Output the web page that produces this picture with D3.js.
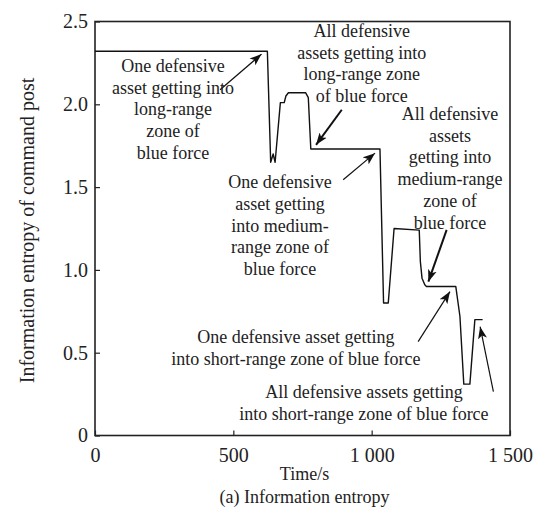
<!DOCTYPE html>
<html>
<head>
<meta charset="utf-8">
<script src="https://cdn.jsdelivr.net/npm/d3@7"></script>
<style>
  body { margin: 0; background: #fff; }
  svg text { font-family: "Liberation Serif", "Times New Roman", serif !important; }
</style>
</head>
<body>
<svg id="chart" width="542" height="523"></svg>
<script>
// data
const times   = [0, 623, 635, 644, 651, 670, 684, 690, 699, 761, 771, 780, 1030, 1043, 1060, 1081, 1172, 1176, 1182, 1192, 1198, 1304, 1319, 1333, 1355, 1373, 1401];
const entropy = [2.32, 2.32, 1.65, 1.70, 1.65, 2.01, 2.01, 2.05, 2.07, 2.07, 2.04, 1.73, 1.73, 0.80, 0.80, 1.25, 1.24, 1.05, 0.95, 0.91, 0.90, 0.90, 0.72, 0.31, 0.31, 0.70, 0.70];

const xTicks = [0, 500, 1000, 1500];
const xTickLabels = ['0', '500', '1 000', '1 500'];
const yTicks = [0, 0.5, 1.0, 1.5, 2.0, 2.5];
const yTickLabels = ['0', '0.5', '1.0', '1.5', '2.0', '2.5'];

// annotation texts, anchored in data units
const noteLines = [
    ['One defensive', 'asset getting into', 'long-range', 'zone of', 'blue force'],
    ['All defensive', 'assets getting into', 'long-range zone', 'of blue force'],
    ['One defensive', 'asset getting', 'into medium-', 'range zone of', 'blue force'],
    ['All defensive', 'assets', 'getting into', 'medium-range', 'zone of', 'blue force'],
    ['One defensive asset getting', 'into short-range zone of blue force'],
    ['All defensive assets getting', 'into short-range zone of blue force'],
];
const noteAt   = [[282, 2.196], [964, 2.408], [669, 1.495], [1283, 1.906], [726, 0.559], [972, 0.227]];
const arrowFrom = [[452, 2.088], [892, 1.967], [897, 1.544], [1271, 1.242], [1168, 0.567], [1440, 0.265]];
const arrowTo   = [[602, 2.303], [799, 1.755], [1012, 1.705], [1205, 0.929], [1283, 0.869], [1392, 0.657]];

// margins
const margin = { l: 95, t: 21.5, r: 32, b: 87.5 };

const svg = d3.select('#chart');
const width  = +svg.attr('width');
const height = +svg.attr('height');
const w = width - margin.l - margin.r;
const h = height - margin.t - margin.b;

const xScale = d3.scaleLinear().domain([0, 1500]).range([0, w]);
const yScale = d3.scaleLinear().domain([0, 2.5]).range([h, 0]);

const g = svg.append('g').attr('transform', `translate(${margin.l},${margin.t})`);

// axes, ticks pointing inward
const xAxis = d3.axisBottom(xScale)
    .tickValues(xTicks)
    .tickFormat((d, i) => xTickLabels[i])
    .tickSizeInner(-5).tickSizeOuter(0).tickPadding(12);
const yAxis = d3.axisLeft(yScale)
    .tickValues(yTicks)
    .tickFormat((d, i) => yTickLabels[i])
    .tickSizeInner(-5).tickSizeOuter(0).tickPadding(12);

const gx = g.append('g').attr('transform', `translate(0,${h})`).call(xAxis);
const gy = g.append('g').call(yAxis);
[gx, gy].forEach(a => {
    a.attr('font-family', null).attr('font-size', 20);
    a.select('.domain').remove();
    a.selectAll('line').attr('stroke', '#222').attr('stroke-width', 1.2);
    a.selectAll('text').attr('fill', '#222');
});
gy.selectAll('text').attr('dx', 5);

// frame
g.append('rect')
    .attr('width', w).attr('height', h)
    .attr('fill', 'none').attr('stroke', '#222').attr('stroke-width', 1.6);

// entropy line
const line = d3.line()
    .x((d, i) => xScale(times[i]))
    .y(d => yScale(d));

g.append('path')
    .attr('d', line(entropy))
    .attr('fill', 'none')
    .attr('stroke', '#111')
    .attr('stroke-width', 1.4)
    .attr('stroke-linejoin', 'round');

// arrowheads
const defs = svg.append('defs');
defs.append('marker')
    .attr('id', 'head')
    .attr('viewBox', '0 -5 12 10')
    .attr('refX', 12).attr('refY', 0)
    .attr('markerUnits', 'userSpaceOnUse')
    .attr('markerWidth', 12).attr('markerHeight', 10)
    .attr('orient', 'auto')
    .append('path')
    .attr('d', 'M0,-4.5L12,0L0,4.5L3,0Z')
    .attr('fill', '#111');

const arrows = g.append('g');
arrowFrom.forEach((p, i) => {
    arrows.append('line')
        .attr('x1', xScale(p[0])).attr('y1', yScale(p[1]))
        .attr('x2', xScale(arrowTo[i][0])).attr('y2', yScale(arrowTo[i][1]))
        .attr('stroke', '#111')
        .attr('stroke-width', i === 3 || i === 1 ? 2 : 1.2)
        .attr('marker-end', 'url(#head)');
});

// annotation text
const notes = g.append('g').attr('fill', '#222').attr('font-size', 18).attr('text-anchor', 'middle');
noteLines.forEach((lines, i) => {
    const t = notes.append('text')
        .attr('x', xScale(noteAt[i][0]))
        .attr('y', yScale(noteAt[i][1]));
    lines.forEach((s, j) => {
        t.append('tspan')
            .attr('x', xScale(noteAt[i][0]))
            .attr('dy', j === 0 ? 0 : 21.8)
            .text(s);
    });
});

// axis titles
svg.append('text')
    .attr('transform', `translate(34,${margin.t + h / 2 + 2}) rotate(-90)`)
    .attr('text-anchor', 'middle')
    .attr('font-size', 20)
    .attr('fill', '#222')
    .text('Information entropy of command post');

svg.append('text')
    .attr('x', margin.l + w / 2 + 2).attr('y', 480)
    .attr('text-anchor', 'middle')
    .attr('font-size', 18)
    .attr('fill', '#222')
    .text('Time/s');

svg.append('text')
    .attr('x', margin.l + w / 2 + 2).attr('y', 503)
    .attr('text-anchor', 'middle')
    .attr('font-size', 18)
    .attr('fill', '#222')
    .text('(a) Information entropy');
</script>
</body>
</html>
